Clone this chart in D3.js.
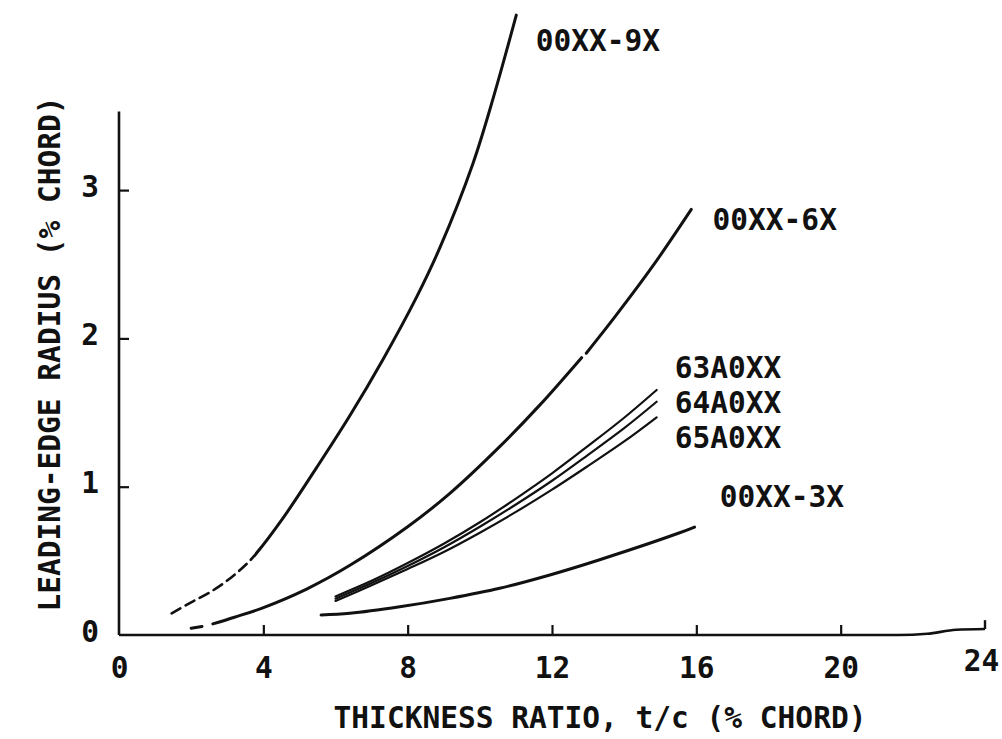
<!DOCTYPE html>
<html>
<head>
<meta charset="utf-8">
<script src="https://cdn.jsdelivr.net/npm/d3@7"></script>
<style>
  html, body { margin: 0; padding: 0; background: #fff; }
  svg { display: block; }
  .lbl { font-family: "DejaVu Sans Mono", "Liberation Mono", monospace; font-weight: bold; fill: #111; }
</style>
</head>
<body>
<svg id="chart" width="1002" height="739"></svg>
<script>
// Leading-edge radius vs. thickness ratio, both in % chord
const xTicks = [0, 4, 8, 12, 16, 20, 24];
const yTicks = [0, 1, 2, 3];

// NACA 00XX-9X (drawn dashed below t/c = 3.77)
const tc9 = [1.46, 2.0, 2.6, 3.12, 3.54, 3.77, 4.55, 5.48, 6.40, 7.32, 8.25, 8.89, 9.81, 10.37, 11.01];
const r9  = [0.146, 0.22, 0.30, 0.39, 0.48, 0.54, 0.79, 1.13, 1.48, 1.86, 2.28, 2.61, 3.18, 3.62, 4.18];
const dash9End = 3.77;

// NACA 00XX-6X (null marks a break in the pen line)
const tc6 = [2.0, 2.3, 2.45, 2.6, 3.2, 3.95, 5.2, 6.4, 8.0, 9.17, 10.55, 11.66, 12.82, 12.88, 12.95, 13.79, 14.8, 15.86];
const r6  = [0.045, 0.058, null, 0.075, 0.12, 0.18, 0.31, 0.47, 0.73, 0.955, 1.27, 1.55, 1.87, null, 1.90, 2.16, 2.49, 2.87];

// NACA 6A-series
const tcA = [6, 7, 8, 9, 10, 11, 12, 13, 14, 14.9];
const r63A = [0.26, 0.365, 0.485, 0.615, 0.76, 0.92, 1.09, 1.275, 1.465, 1.652];
const r64A = [0.245, 0.35, 0.465, 0.59, 0.73, 0.88, 1.04, 1.215, 1.395, 1.573];
const r65A = [0.23, 0.335, 0.445, 0.56, 0.69, 0.83, 0.98, 1.14, 1.305, 1.468];

// NACA 00XX-3X
const tc3 = [5.6, 6.4, 7.78, 9.17, 10.55, 11.94, 13.3, 15.5, 15.95];
const r3  = [0.135, 0.146, 0.19, 0.247, 0.315, 0.405, 0.506, 0.686, 0.728];

const curveLabels = ["00XX-9X", "00XX-6X", "63A0XX", "64A0XX", "65A0XX", "00XX-3X"];
const xTitle = "THICKNESS RATIO, t/c (% CHORD)";
const yTitle = "LEADING-EDGE RADIUS (% CHORD)";

const W = 1002, H = 739;
const svg = d3.select("#chart");
const x = d3.scaleLinear().domain([0, 24]).range([119, 985]);
const y = d3.scaleLinear().domain([0, 1]).range([635, 486.7]);
const yAxisTop = 3.53;
const ink = "#111";
const fs = 29.5;

const zip = (xs, ys) => xs.map((t, i) => ({ t, r: ys[i] }));
const line = d3.line()
  .defined(d => d.r !== null)
  .x(d => x(d.t)).y(d => y(d.r))
  .curve(d3.curveCatmullRom.alpha(0.5));

function drawCurve(xs, ys, width, dash, clip) {
  svg.append("path")
    .datum(zip(xs, ys))
    .attr("d", line)
    .attr("fill", "none")
    .attr("stroke", ink)
    .attr("stroke-width", width)
    .attr("stroke-linecap", "round")
    .attr("stroke-dasharray", dash || null)
    .attr("clip-path", clip ? `url(#${clip})` : null);
}

// clip regions splitting the 9X curve into its dashed and solid parts
const defs = svg.append("defs");
defs.append("clipPath").attr("id", "clip9dash").append("rect")
  .attr("x", 0).attr("y", 0).attr("width", x(dash9End)).attr("height", H);
defs.append("clipPath").attr("id", "clip9solid").append("rect")
  .attr("x", x(dash9End)).attr("y", 0).attr("width", W - x(dash9End)).attr("height", H);

// x axis
const gx = svg.append("g").attr("transform", `translate(0,${y(0)})`)
  .call(d3.axisBottom(x).tickValues(xTicks).tickSizeInner(-10).tickSizeOuter(0).tickFormat(d3.format("d")));
gx.select(".domain").remove();
gx.selectAll(".tick line").attr("stroke", ink).attr("stroke-width", 2.2);
gx.selectAll(".tick").filter(d => d === 0 || d === 24).select("line").remove();
gx.selectAll(".tick text")
  .attr("class", "lbl").attr("font-size", fs).attr("fill", ink)
  .attr("y", 0).attr("dy", null)
  .attr("transform", d => d === 24 ? "translate(-4,36)" : "translate(0,43)");

// axis baseline, with its gentle lift and end tick at t/c = 24
const axisPath = d3.line().x(d => x(d.t)).y(d => y(d.r)).curve(d3.curveMonotoneX);
svg.append("path")
  .datum([{ t: 0, r: 0 }, { t: 21.6, r: 0 }, { t: 22.4, r: 0.008 }, { t: 23.2, r: 0.035 }, { t: 24, r: 0.04 }])
  .attr("d", axisPath)
  .attr("fill", "none").attr("stroke", ink).attr("stroke-width", 2.6);
svg.append("line")
  .attr("x1", x(24)).attr("x2", x(24)).attr("y1", y(0.04)).attr("y2", y(0.1))
  .attr("stroke", ink).attr("stroke-width", 2.4);

// y axis
const gy = svg.append("g").attr("transform", `translate(${x(0)},0)`)
  .call(d3.axisLeft(y).tickValues(yTicks).tickSizeInner(-10).tickSizeOuter(0).tickFormat(d3.format("d")));
gy.select(".domain").remove();
gy.selectAll(".tick line").attr("stroke", ink).attr("stroke-width", 2.2);
gy.selectAll(".tick").filter(d => d === 0).select("line").remove();
gy.selectAll(".tick text")
  .attr("class", "lbl").attr("font-size", fs).attr("fill", ink)
  .attr("x", null).attr("dy", null).attr("y", 0)
  .attr("transform", "translate(-20,6)");

svg.append("line")
  .attr("x1", x(0)).attr("x2", x(0)).attr("y1", y(0)).attr("y2", y(yAxisTop))
  .attr("stroke", ink).attr("stroke-width", 2.6);

// curves
drawCurve(tc9, r9, 2.6, "10,6", "clip9dash");
drawCurve(tc9, r9, 3, null, "clip9solid");
drawCurve(tc6, r6, 3);
drawCurve(tcA, r63A, 2.2);
drawCurve(tcA, r64A, 2.2);
drawCurve(tcA, r65A, 2.2);
drawCurve(tc3, r3, 3);

// curve labels, placed beside each curve's end
const labelAnchors = [
  { t: 11.55, r: 3.94 },
  { t: 16.45, r: 2.73 },
  { t: 15.4, r: 1.73 },
  { t: 15.4, r: 1.495 },
  { t: 15.4, r: 1.26 },
  { t: 16.65, r: 0.86 }
];
curveLabels.forEach((txt, i) => {
  const a = labelAnchors[i];
  svg.append("text").attr("class", "lbl").attr("font-size", fs)
    .attr("transform", `translate(${x(a.t)},${y(a.r)})`)
    .text(txt);
});

// axis titles
svg.append("text").attr("class", "lbl").attr("font-size", fs)
  .attr("text-anchor", "middle")
  .attr("transform", "translate(600,728)")
  .text(xTitle);
svg.append("text").attr("class", "lbl").attr("font-size", fs)
  .attr("text-anchor", "middle")
  .attr("transform", "translate(60,354) rotate(-90)")
  .text(yTitle);
</script>
</body>
</html>
